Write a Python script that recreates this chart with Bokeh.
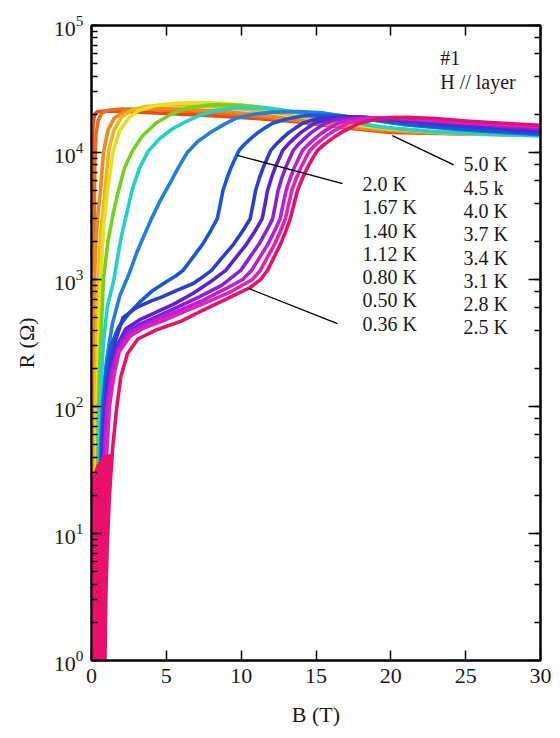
from bokeh.plotting import figure
from bokeh.models import Range1d, LogAxis, LinearAxis, FixedTicker, LogTicker, CustomJSTickFormatter
from bokeh.core.properties import value
from bokeh.embed import file_html
from bokeh.resources import INLINE

FONT = "Liberation Serif"

# ---------------- data ----------------
temps = ["5.0 K", "4.5 k", "4.0 K", "3.7 K", "3.4 K", "3.1 K", "2.8 K", "2.5 K",
         "2.0 K", "1.67 K", "1.40 K", "1.12 K", "0.80 K", "0.50 K", "0.36 K"]
colors = ["#e84a1a", "#ee6a1c", "#f08a1e", "#f4b41e", "#e6e020", "#72d21e", "#22d2c8",
          "#2080e0", "#1858d8", "#2a3ed0", "#5a22d8", "#8a20d8", "#b820d8", "#e020b8", "#e8106a"]

B_50 = [0.0, 0.02, 0.05, 0.1, 0.2, 0.4, 1.0, 2.5, 5, 8, 11, 14, 17, 20, 25, 30]
R_50 = [3500, 6000, 11000, 16500, 20000, 21000, 21200, 21000, 20300, 19500, 18500, 17300, 15600, 14400, 14000, 13700]

B_45 = [0.1, 0.12, 0.15, 0.18, 0.22, 0.3, 0.45, 0.7, 1.1, 2, 4, 7, 10, 13, 16, 19, 22, 26, 30]
R_45 = [1, 20, 300, 2500, 8000, 14000, 18000, 20500, 21500, 22000, 21800, 21000, 19800, 18200, 16500, 15000, 14400, 14000, 13700]

B_40 = [0.1, 0.12, 0.14, 0.16, 0.2, 0.3, 0.45, 0.6, 0.8, 1.1, 1.5, 2.2, 3.5, 6, 9, 12, 15, 18, 21, 25, 30]
R_40 = [1, 10, 100, 400, 1000, 2000, 3500, 5000, 10000, 15000, 18500, 21000, 22200, 22000, 21000, 19300, 17200, 15500, 14600, 14000, 13700]

B_37 = [0.2, 0.23, 0.27, 0.32, 0.38, 0.45, 0.6, 0.9, 1.15, 1.5, 2.0, 2.7, 3.6, 5, 7, 10, 13, 16, 19, 23, 30]
R_37 = [1, 10, 80, 250, 550, 1000, 2200, 5000, 10300, 15000, 19000, 21500, 23000, 23800, 23500, 22000, 20000, 17500, 15600, 14500, 13700]

B_34 = [0.25, 0.3, 0.35, 0.42, 0.5, 0.6, 0.8, 1.07, 1.45, 1.9, 2.5, 3.2, 4.3, 5.8, 7.3, 9, 11, 13, 15, 17, 20, 24, 30]
R_34 = [1, 10, 70, 200, 450, 1000, 2500, 5000, 10300, 15000, 18800, 21500, 23500, 24500, 24700, 24300, 23000, 21000, 19000, 17000, 15300, 14200, 13600]

B_31 = [0.3, 0.36, 0.43, 0.52, 0.65, 0.8, 1.1, 1.45, 1.8, 2.2, 2.74, 3.4, 4.3, 5.3, 6.5, 8, 10, 12, 14, 16.5, 20, 24, 30]
R_31 = [1, 10, 60, 170, 400, 1000, 2000, 3300, 5000, 7500, 10300, 13500, 17000, 20000, 22500, 23800, 23500, 22300, 20500, 18000, 15500, 14300, 13600]

B_28 = [0.35, 0.42, 0.5, 0.62, 0.8, 1.05, 1.3, 1.5, 1.75, 2.0, 2.35, 2.7, 3.2, 3.8, 4.6, 5.4, 6.1, 7.2, 8.3, 9.8, 11.5, 13.5, 16, 19, 23, 30]
R_28 = [1, 10, 50, 140, 320, 600, 800, 1000, 1500, 2200, 3300, 5000, 7500, 10300, 13000, 15300, 17000, 19500, 21400, 22500, 22300, 21000, 18500, 16000, 14500, 13500]

B_25 = [0.4, 0.5, 0.6, 0.75, 1.0, 1.4, 1.9, 2.5, 3.0, 3.5, 4.0, 4.6, 5.2, 5.8, 6.4, 7.1, 8.0, 8.8, 9.6, 10.8, 12.2, 13.8, 15.5, 18, 21, 25, 30]
R_25 = [1, 10, 45, 110, 230, 450, 750, 1100, 1600, 2200, 3000, 4200, 5600, 7600, 10000, 12200, 14500, 16500, 18500, 20000, 20800, 21000, 20500, 18500, 16500, 15000, 13800]

B_20 = [0.45, 0.55, 0.65, 0.8, 1.0, 1.3, 1.8, 2.5, 3.2, 4.1, 5.0, 5.6, 6.12, 6.78, 7.43, 7.95, 8.4, 8.62, 8.78, 9.06, 9.32, 9.62, 9.86, 10.26, 10.71, 11.14, 11.62, 12.1, 12.98, 14.2, 15.5, 17, 19, 22, 26, 30]
R_20 = [1, 10, 40, 100, 190, 300, 420, 540, 660, 820, 960, 1060, 1180, 1500, 1900, 2400, 3000, 4000, 5000, 6300, 7600, 9100, 10400, 11700, 13100, 14400, 15700, 17000, 18300, 19500, 19600, 19200, 18000, 16300, 15000, 14000]

B_167 = [0.5, 0.6, 0.72, 0.9, 1.2, 1.6, 2.1, 3.0, 4.0, 4.6, 5.7, 6.8, 7.4, 8.02, 8.76, 9.5, 10.09, 10.6, 10.81, 10.96, 11.22, 11.47, 11.76, 11.98, 12.36, 12.8, 13.2, 13.66, 14.11, 14.95, 16.5, 18, 21, 25, 30]
R_167 = [1, 10, 40, 100, 200, 330, 500, 600, 680, 720, 820, 930, 1040, 1180, 1500, 1900, 2400, 3000, 4000, 5000, 6300, 7600, 9100, 10400, 11700, 13100, 14400, 15700, 17000, 18300, 19200, 19000, 17700, 16000, 14500]

B_140 = [0.55, 0.65, 0.78, 0.95, 1.25, 1.7, 2.3, 3.2, 4.3, 5.5, 6.8, 7.9, 8.97, 9.67, 10.36, 10.92, 11.4, 11.61, 11.76, 12.02, 12.27, 12.56, 12.78, 13.16, 13.6, 14.0, 14.46, 14.91, 15.75, 18, 22, 26, 30]
R_140 = [1, 10, 40, 100, 190, 300, 410, 480, 550, 640, 780, 950, 1180, 1500, 1900, 2400, 3000, 4000, 5000, 6300, 7600, 9100, 10400, 11700, 13100, 14400, 15700, 17000, 18300, 19000, 17800, 16300, 15000]

B_112 = [0.6, 0.7, 0.83, 1.0, 1.3, 1.75, 2.4, 3.3, 4.5, 5.8, 7.2, 8.7, 9.97, 10.59, 11.19, 11.68, 12.1, 12.31, 12.46, 12.72, 12.97, 13.26, 13.48, 13.86, 14.3, 14.7, 15.16, 15.61, 16.45, 19, 22, 26, 30]
R_112 = [1, 10, 40, 100, 185, 290, 390, 450, 520, 610, 730, 900, 1180, 1500, 1900, 2400, 3000, 4000, 5000, 6300, 7600, 9100, 10400, 11700, 13100, 14400, 15700, 17000, 18300, 18800, 17800, 16500, 15400]

B_080 = [0.65, 0.75, 0.88, 1.05, 1.35, 1.8, 2.5, 3.4, 4.7, 6.0, 7.5, 9.0, 10.1, 10.7, 11.25, 11.79, 12.22, 12.6, 12.82, 13.0, 13.28, 13.55, 13.86, 14.11, 14.53, 15.0, 15.44, 15.94, 16.43, 17.35, 19.8, 23, 26, 30]
R_080 = [1, 10, 40, 100, 180, 280, 370, 430, 500, 580, 690, 850, 1000, 1180, 1500, 1900, 2400, 3000, 4000, 5000, 6300, 7600, 9100, 10400, 11700, 13100, 14400, 15700, 17000, 18300, 18800, 17800, 16800, 15800]

B_050 = [0.8, 0.9, 1.0, 1.2, 1.5, 1.85, 2.6, 3.5, 4.9, 6.2, 7.8, 9.3, 10.75, 11.28, 11.76, 12.24, 12.62, 12.95, 13.19, 13.38, 13.69, 13.99, 14.32, 14.59, 15.04, 15.55, 16.03, 16.57, 17.11, 18.1, 20.3, 23, 26, 30]
R_050 = [1, 10, 40, 100, 175, 270, 360, 415, 480, 560, 670, 800, 1000, 1180, 1500, 1900, 2400, 3000, 4000, 5000, 6300, 7600, 9100, 10400, 11700, 13100, 14400, 15700, 17000, 18300, 18900, 18000, 17000, 16100]

B_036 = [0.9, 0.95, 1.05, 1.2, 1.4, 1.65, 1.95, 2.4, 3.1, 4.3, 6.0, 7.4, 9.0, 10.6, 11.3, 11.76, 12.2, 12.63, 12.98, 13.28, 13.55, 13.76, 14.1, 14.43, 14.8, 15.1, 15.6, 16.17, 16.7, 17.3, 17.9, 19.0, 21, 23, 25, 27.5, 30]
R_036 = [1, 3, 8, 20, 45, 90, 170, 260, 340, 400, 470, 570, 700, 865, 1000, 1180, 1500, 1900, 2400, 3000, 4000, 5000, 6300, 7600, 9100, 10400, 11700, 13100, 14400, 15700, 17000, 18300, 18900, 18500, 17700, 17000, 16400]

# dense pink band of the lowest-temperature trace near zero resistance
band_R = [1, 3, 8, 20, 28, 35, 42]
band_B_left = [0.0, 0.0, 0.0, 0.0, 0.05, 0.35, 0.9]
band_B_right = [0.95, 1.0, 1.05, 1.2, 1.28, 1.33, 1.36]

curves_B = [B_50, B_45, B_40, B_37, B_34, B_31, B_28, B_25, B_20, B_167, B_140, B_112, B_080, B_050, B_036]
curves_R = [R_50, R_45, R_40, R_37, R_34, R_31, R_28, R_25, R_20, R_167, R_140, R_112, R_080, R_050, R_036]

# labels
label_col1 = ["2.0 K", "1.67 K", "1.40 K", "1.12 K", "0.80 K", "0.50 K", "0.36 K"]
label_col1_R = [5700, 3690, 2430, 1600, 1040, 684, 450]
label_col1_B = 18.1
label_col2 = ["5.0 K", "4.5 k", "4.0 K", "3.7 K", "3.4 K", "3.1 K", "2.8 K", "2.5 K"]
label_col2_R = [8190, 5300, 3490, 2300, 1490, 982, 647, 419]
label_col2_B = 24.85
note_B = [23.3, 23.3]
note_R = [55000, 35600]
note_text = ["#1", "H // layer"]

leader_B0 = [20.1, 9.75, 10.5]
leader_R0 = [13600, 9500, 850]
leader_B1 = [24.2, 16.77, 16.43]
leader_R1 = [8000, 5700, 450]

x_ticks = [0, 5, 10, 15, 20, 25, 30]

# ---------------- figure ----------------
p = figure(width=552, height=730, x_range=Range1d(0, 30), y_range=Range1d(1, 1e5),
           y_axis_type="log", output_backend="svg", toolbar_location=None,
           min_border_left=91, min_border_right=12, min_border_top=25, min_border_bottom=70)
p.grid.visible = False
p.outline_line_color = "black"
p.outline_line_width = 2
p.background_fill_color = "white"
p.border_fill_color = "white"

for bx, ry, c in zip(curves_B, curves_R, colors):
    p.line(bx, ry, line_color=c, line_width=3.6, line_join="round", line_cap="round")

p.harea(y=band_R, x1=band_B_left, x2=band_B_right, fill_color="#e8106a")

p.segment(x0=leader_B0, y0=leader_R0, x1=leader_B1, y1=leader_R1, line_color="black", line_width=1.3)

TXT = dict(text_font=value(FONT), text_font_size="20px", text_baseline="middle",
           text_align="left", text_color="#1a1a1a")
p.text(x=[label_col1_B] * len(label_col1), y=label_col1_R, text=label_col1, **TXT)
p.text(x=[label_col2_B] * len(label_col2), y=label_col2_R, text=label_col2, **TXT)
p.text(x=note_B, y=note_R, text=note_text, **TXT)


def style_axis(ax, labels=True):
    ax.axis_line_width = 2
    ax.axis_line_color = "black"
    ax.major_tick_in = 10
    ax.major_tick_out = 0
    ax.minor_tick_in = 6
    ax.minor_tick_out = 0
    ax.major_tick_line_width = 1.5
    ax.minor_tick_line_width = 1.5
    ax.major_tick_line_color = "black"
    ax.minor_tick_line_color = "black"
    ax.major_label_text_font = FONT
    ax.major_label_text_font_size = "22px" if labels else "1px"
    ax.major_label_text_color = "#1a1a1a"
    ax.axis_label_text_font = FONT
    ax.axis_label_text_font_size = "22px"
    ax.axis_label_text_font_style = "normal"
    ax.axis_label_text_color = "#1a1a1a"


xa = p.xaxis[0]
xa.ticker = FixedTicker(ticks=x_ticks, minor_ticks=[])
xa.axis_label = "B (T)"
xa.major_label_standoff = 8
xa.axis_label_standoff = 16
style_axis(xa)

ya = p.yaxis[0]
ya.axis_label = "R (Ω)"
ya.major_label_standoff = 8
ya.axis_label_standoff = 12
style_axis(ya)

blank = CustomJSTickFormatter(code="return '';")
top = LinearAxis(ticker=FixedTicker(ticks=x_ticks, minor_ticks=[]), formatter=blank, major_label_standoff=0)
style_axis(top, labels=False)
p.add_layout(top, "above")

right = LogAxis(ticker=LogTicker(), formatter=blank, major_label_standoff=0)
style_axis(right, labels=False)
right.major_tick_in = 12
p.add_layout(right, "right")

open("out.html", "w").write(file_html(p, INLINE))
